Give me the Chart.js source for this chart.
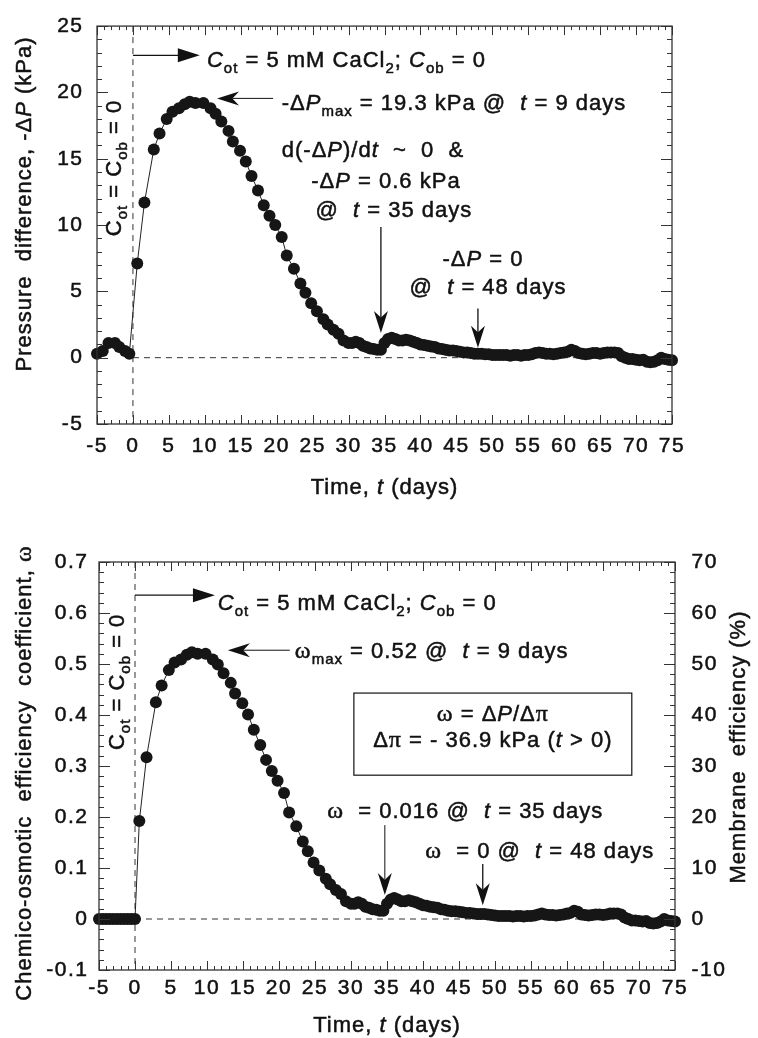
<!DOCTYPE html>
<html>
<head>
<meta charset="utf-8">
<title>Pressure difference and chemico-osmotic efficiency</title>
<script src="https://cdn.jsdelivr.net/npm/chart.js@4.4.1/dist/chart.umd.min.js"></script>
<style>
body { margin: 0; background: #fff; }
.box { position: absolute; left: 0; }
</style>
</head>
<body>
<div class="box" style="top:0"><canvas id="pressure" width="758" height="510"></canvas></div>
<div class="box" style="top:515px"><canvas id="omega" width="758" height="523"></canvas></div>
<script>
'use strict';
// readings taken off the figure (time in days)
let dayPre = [-5, -4.2, -3.4, -2.5, -1.9, -1.1, -0.5];
let pressurePre = [0.3, 0.5, 1.1, 1.1, 0.8, 0.5, 0.3];
let dayZero = [-5, -4.5, -4, -3.5, -3, -2.5, -2, -1.5, -1, -0.5, 0];
let omegaZero = [0, 0, 0, 0, 0, 0, 0, 0, 0, 0, 0];

let dayRise = [0.6, 1.6, 2.9, 3.7, 4.7, 5.5, 6.4, 7.2, 7.9, 8.7, 9.8, 10.8, 11.5, 12.3, 13.3, 13.9, 14.9, 15.7,
    16.5, 17.4, 18.2, 19.0, 19.8, 20.7, 21.4, 22.4, 23.3, 24.0, 24.8, 25.6, 26.5, 27.1, 27.9, 28.6, 29.3, 30.0];
let pressureRise = [7.1, 11.7, 15.7, 16.9, 18.0, 18.55, 18.8, 19.1, 19.3, 19.2, 19.2, 18.8, 18.4, 17.8, 17.1, 16.3, 15.6, 14.8,
    13.7, 12.6, 11.5, 10.7, 10.0, 9.1, 7.7, 6.7, 5.6, 4.9, 4.1, 3.5, 2.9, 2.5, 2.1, 1.8, 1.3, 1.1];
let omegaRise = [0.192, 0.317, 0.425, 0.458, 0.488, 0.503, 0.509, 0.518, 0.523, 0.520, 0.520, 0.509, 0.499, 0.482, 0.463, 0.442, 0.423, 0.401,
    0.371, 0.341, 0.312, 0.290, 0.271, 0.247, 0.209, 0.182, 0.152, 0.133, 0.111, 0.095, 0.079, 0.068, 0.057, 0.049, 0.035, 0.030];

let dayTail = [30.5, 31, 31.5, 32, 32.5, 33, 33.5, 34, 34.5, 35, 35.5, 36, 36.5, 37, 37.5, 38, 38.5, 39, 39.5, 40,
    40.5, 41, 41.5, 42, 42.5, 43, 43.5, 44, 44.5, 45, 45.5, 46, 46.5, 47, 47.5, 48, 48.5, 49, 49.5, 50,
    50.5, 51, 51.5, 52, 52.5, 53, 53.5, 54, 54.5, 55, 55.5, 56, 56.5, 57, 57.5, 58, 58.5, 59, 59.5, 60,
    60.5, 61, 61.5, 62, 62.5, 63, 63.5, 64, 64.5, 65, 65.5, 66, 66.5, 67, 67.5, 68, 68.5, 69, 69.5, 70,
    70.5, 71, 71.5, 72, 72.5, 73, 73.5, 74, 74.5, 75];
let pressureTail = [1.1, 1.2, 1.1, 0.9, 0.8, 0.7, 0.65, 0.6, 0.6, 1.1, 1.4, 1.5, 1.4, 1.3, 1.3, 1.35, 1.3, 1.2, 1.1, 1.0,
    0.95, 0.9, 0.85, 0.8, 0.7, 0.65, 0.6, 0.55, 0.55, 0.5, 0.45, 0.4, 0.4, 0.35, 0.3, 0.3, 0.3, 0.25, 0.25, 0.2,
    0.2, 0.2, 0.2, 0.2, 0.15, 0.2, 0.2, 0.15, 0.2, 0.2, 0.25, 0.35, 0.4, 0.35, 0.3, 0.3, 0.25, 0.3, 0.35, 0.4,
    0.45, 0.6, 0.5, 0.35, 0.3, 0.25, 0.3, 0.35, 0.35, 0.3, 0.35, 0.4, 0.4, 0.4, 0.35, 0.1, 0.0, -0.1, -0.1, -0.15,
    -0.2, -0.15, -0.3, -0.35, -0.3, -0.2, 0.0, -0.1, -0.15, -0.2];
let omegaTail = [0.030, 0.033, 0.030, 0.024, 0.022, 0.019, 0.018, 0.016, 0.016, 0.030, 0.038, 0.041, 0.038, 0.035, 0.035, 0.037, 0.035, 0.033, 0.030, 0.027,
    0.026, 0.024, 0.023, 0.022, 0.019, 0.018, 0.016, 0.015, 0.015, 0.014, 0.013, 0.012, 0.012, 0.011, 0.010, 0.010, 0.010, 0.009, 0.008, 0.007,
    0.006, 0.006, 0.006, 0.006, 0.005, 0.006, 0.006, 0.005, 0.006, 0.006, 0.007, 0.009, 0.011, 0.009, 0.008, 0.008, 0.007, 0.008, 0.009, 0.011,
    0.012, 0.016, 0.014, 0.009, 0.008, 0.007, 0.008, 0.009, 0.009, 0.008, 0.009, 0.011, 0.011, 0.011, 0.009, 0.003, 0.000, -0.003, -0.003, -0.004,
    -0.005, -0.004, -0.008, -0.009, -0.008, -0.005, 0.000, -0.003, -0.004, -0.005];

let timeTicks = [-5, 0, 5, 10, 15, 20, 25, 30, 35, 40, 45, 50, 55, 60, 65, 70, 75];
let pressureTicks = [-5, 0, 5, 10, 15, 20, 25];
let omegaTicks = [-0.1, 0, 0.1, 0.2, 0.3, 0.4, 0.5, 0.6, 0.7];
let efficiencyTicks = [-10, 0, 10, 20, 30, 40, 50, 60, 70];

const sans = '"Liberation Sans", Arial, Helvetica, sans-serif';
const serif = '"Liberation Serif", "Times New Roman", serif';
const ink = '#111';

function points(days, vals) {
    return days.map((d, i) => ({ x: d, y: vals[i] }));
}

function setFont(ctx, kind, size) {
    if (kind === 'i') ctx.font = 'italic ' + size + 'px ' + sans;
    else if (kind === 'b') ctx.font = Math.round(size * 0.68) + 'px ' + sans;
    else if (kind === 'g') ctx.font = (size + 2) + 'px ' + serif;
    else ctx.font = size + 'px ' + sans;
}

// parts: [text, kind]  n normal, i italic, b subscript, g greek (serif)
function richText(ctx, parts, x, y, size, align) {
    ctx.save();
    ctx.letterSpacing = '1px';
    ctx.textAlign = 'left';
    ctx.textBaseline = 'alphabetic';
    ctx.fillStyle = ink;
    ctx.strokeStyle = ink;
    ctx.lineWidth = 0.5;
    let w = 0;
    parts.forEach(p => { setFont(ctx, p[1], size); w += ctx.measureText(p[0]).width; });
    let cx = align === 'center' ? x - w / 2 : x;
    parts.forEach(p => {
        setFont(ctx, p[1], size);
        let dy = p[1] === 'b' ? size * 0.28 : 0;
        ctx.strokeText(p[0], cx, y + dy);
        ctx.fillText(p[0], cx, y + dy);
        cx += ctx.measureText(p[0]).width;
    });
    ctx.restore();
}

function rotText(ctx, parts, x, y, size) {
    ctx.save();
    ctx.translate(x, y);
    ctx.rotate(-Math.PI / 2);
    richText(ctx, parts, 0, 0, size, 'center');
    ctx.restore();
}

function arrow(ctx, x1, y1, x2, y2, notch, lw) {
    let a = Math.atan2(y2 - y1, x2 - x1), L = 22, W = 7;
    let c = Math.cos(a), s = Math.sin(a);
    ctx.save();
    ctx.strokeStyle = ink;
    ctx.fillStyle = ink;
    ctx.lineWidth = lw;
    ctx.beginPath();
    ctx.moveTo(x1, y1);
    ctx.lineTo(x2 - L * 0.7 * c, y2 - L * 0.7 * s);
    ctx.stroke();
    ctx.beginPath();
    ctx.moveTo(x2, y2);
    ctx.lineTo(x2 - L * c + W * s, y2 - L * s - W * c);
    if (notch) ctx.lineTo(x2 - L * 0.7 * c, y2 - L * 0.7 * s);
    ctx.lineTo(x2 - L * c - W * s, y2 - L * s + W * c);
    ctx.closePath();
    ctx.fill();
    ctx.restore();
}

function dashed(ctx, x1, y1, x2, y2) {
    ctx.save();
    ctx.strokeStyle = '#333';
    ctx.lineWidth = 1;
    ctx.setLineDash([6, 5]);
    ctx.beginPath();
    ctx.moveTo(x1, y1);
    ctx.lineTo(x2, y2);
    ctx.stroke();
    ctx.restore();
}

// box round the plot with inward ticks on all four sides
function frameTicks(chart, xs, xStep, xEvery, ys, yStep, yEvery) {
    let ctx = chart.ctx, a = chart.chartArea;
    ctx.save();
    ctx.strokeStyle = '#333';
    ctx.lineWidth = 1;
    ctx.beginPath();
    let nx = Math.round((xs.max - xs.min) / xStep);
    for (let i = 0; i <= nx; i++) {
        let px = Math.round(xs.getPixelForValue(xs.min + i * xStep)) + 0.5;
        let len = i % xEvery === 0 ? 9 : 4;
        ctx.moveTo(px, a.bottom); ctx.lineTo(px, a.bottom - len);
        ctx.moveTo(px, a.top); ctx.lineTo(px, a.top + len);
    }
    let ny = Math.round((ys.max - ys.min) / yStep);
    for (let i = 0; i <= ny; i++) {
        let py = Math.round(ys.getPixelForValue(ys.min + i * yStep)) + 0.5;
        let len = i % yEvery === 0 ? 11 : 5;
        ctx.moveTo(a.left, py); ctx.lineTo(a.left + len, py);
        ctx.moveTo(a.right, py); ctx.lineTo(a.right - len, py);
    }
    ctx.stroke();
    ctx.lineWidth = 1.3;
    ctx.strokeRect(a.left, a.top, a.right - a.left, a.bottom - a.top);
    ctx.restore();
}

function axisConf(min, max, list, pad, size, extra) {
    return Object.assign({
        type: 'linear',
        min: min,
        max: max,
        afterBuildTicks: s => { s.ticks = list.map(v => ({ value: v })); },
        ticks: {
            autoSkip: false, maxRotation: 0, padding: pad, color: ink,
            textStrokeColor: ink, textStrokeWidth: 0.5,
            font: { family: sans, size: 21 }, callback: v => String(v)
        },
        grid: { display: false, drawTicks: false },
        border: { display: false },
        afterFit: s => { if (s.isHorizontal()) s.height = size; else s.width = size; }
    }, extra || {});
}

function seriesStyle(data) {
    return {
        data: data,
        borderColor: '#222',
        borderWidth: 1,
        pointRadius: 6,
        pointBackgroundColor: '#161616',
        pointBorderWidth: 0,
        tension: 0,
        clip: false
    };
}

let topText = [['C', 'i'], ['ot', 'b'], [' = 5 mM CaCl', 'n'], ['2', 'b'], ['; ', 'n'], ['C', 'i'], ['ob', 'b'], [' = 0', 'n']];
let zeroText = [['C', 'n'], ['ot', 'b'], [' = C', 'n'], ['ob', 'b'], [' = 0', 'n']];
let timeTitle = [['Time, ', 'n'], ['t', 'i'], [' (days)', 'n']];

const decorPressure = {
    id: 'decorPressure',
    beforeDraw(c) { c.ctx.letterSpacing = '1.5px'; },
    beforeDatasetsDraw(c) {
        let X = v => c.scales.x.getPixelForValue(v), Y = v => c.scales.y.getPixelForValue(v), a = c.chartArea;
        dashed(c.ctx, X(0), a.top, X(0), a.bottom);
        dashed(c.ctx, X(0), Y(0), a.right, Y(0));
    },
    afterDatasetsDraw(c) {
        let ctx = c.ctx, a = c.chartArea;
        let X = v => c.scales.x.getPixelForValue(v), Y = v => c.scales.y.getPixelForValue(v);
        frameTicks(c, c.scales.x, 1, 5, c.scales.y, 1, 5);
        arrow(ctx, X(0), Y(22.8), X(9.3), Y(22.8), false, 1.3);
        richText(ctx, topText, X(10.3), Y(21.9), 22, 'left');
        arrow(ctx, X(19.5), Y(19.55), X(11.7), Y(19.55), true, 1);
        richText(ctx, [['-Δ', 'n'], ['P', 'i'], ['max', 'b'], [' = 19.3 kPa @  ', 'n'], ['t', 'i'], [' = 9 days', 'n']], X(20.7), Y(18.7), 22, 'left');
        richText(ctx, [['d(-Δ', 'n'], ['P', 'i'], [')/d', 'n'], ['t', 'i'], ['  ~  0  &', 'n']], X(33.4), Y(15.1), 22, 'center');
        richText(ctx, [['-Δ', 'n'], ['P', 'i'], [' = 0.6 kPa', 'n']], X(35.2), Y(12.8), 22, 'center');
        richText(ctx, [['@  ', 'n'], ['t', 'i'], [' = 35 days', 'n']], X(36.3), Y(10.6), 22, 'center');
        arrow(ctx, X(34.5), Y(9.85), X(34.5), Y(1.87), true, 1.3);
        richText(ctx, [['-Δ', 'n'], ['P', 'i'], [' = 0', 'n']], X(48.7), Y(6.9), 22, 'center');
        richText(ctx, [['@  ', 'n'], ['t', 'i'], [' = 48 days', 'n']], X(49.4), Y(4.8), 22, 'center');
        arrow(ctx, X(48), Y(3.7), X(48), Y(0.75), true, 1.3);
        rotText(ctx, zeroText, X(-1.67), Y(14.3), 22);
        richText(ctx, timeTitle, (a.left + a.right) / 2, 494, 22, 'center');
        rotText(ctx, [['Pressure  difference, -Δ', 'n'], ['P', 'i'], [' (kPa)', 'n']], 31, 204, 22);
    }
};

const decorOmega = {
    id: 'decorOmega',
    beforeDraw(c) { c.ctx.letterSpacing = '1.5px'; },
    beforeDatasetsDraw(c) {
        let X = v => c.scales.x.getPixelForValue(v), Y = v => c.scales.y.getPixelForValue(v), a = c.chartArea;
        dashed(c.ctx, X(0), a.top, X(0), a.bottom);
        dashed(c.ctx, X(0), Y(0), a.right, Y(0));
    },
    afterDatasetsDraw(c) {
        let ctx = c.ctx, a = c.chartArea;
        let X = v => c.scales.x.getPixelForValue(v), Y = v => c.scales.y.getPixelForValue(v);
        frameTicks(c, c.scales.x, 1, 5, c.scales.y, 0.02, 5);
        arrow(ctx, X(0), Y(0.635), X(11.1), Y(0.635), false, 1.3);
        richText(ctx, topText, X(11.5), Y(0.606), 22, 'left');
        arrow(ctx, X(21.5), Y(0.527), X(12.9), Y(0.527), true, 1);
        richText(ctx, [['ω', 'g'], ['max', 'b'], [' = 0.52 @  ', 'n'], ['t', 'i'], [' = 9 days', 'n']], X(22.2), Y(0.512), 22, 'left');
        ctx.save();
        ctx.strokeStyle = ink;
        ctx.lineWidth = 1.2;
        ctx.strokeRect(X(30.4), Y(0.443), X(69.0) - X(30.4), Y(0.282) - Y(0.443));
        ctx.restore();
        richText(ctx, [['ω', 'g'], [' = Δ', 'n'], ['P', 'i'], ['/Δ', 'n'], ['π', 'g']], X(49.7), Y(0.388), 22, 'center');
        richText(ctx, [['Δ', 'n'], ['π', 'g'], [' = - 36.9 kPa (', 'n'], ['t', 'i'], [' > 0)', 'n']], X(49.7), Y(0.337), 22, 'center');
        richText(ctx, [['ω', 'g'], ['  = 0.016 @  ', 'n'], ['t', 'i'], [' = 35 days', 'n']], X(26.7), Y(0.198), 22, 'left');
        arrow(ctx, X(34.7), Y(0.184), X(34.7), Y(0.047), true, 1);
        richText(ctx, [['ω', 'g'], ['  = 0 @  ', 'n'], ['t', 'i'], [' = 48 days', 'n']], X(40.3), Y(0.12), 22, 'left');
        arrow(ctx, X(48.3), Y(0.108), X(48.3), Y(0.027), true, 1.3);
        rotText(ctx, zeroText, X(-1.53), Y(0.465), 22);
        richText(ctx, timeTitle, (a.left + a.right) / 2, 517, 22, 'center');
        rotText(ctx, [['Chemico-osmotic  efficiency  coefficient, ', 'n'], ['ω', 'g']], 31, 258, 22);
        rotText(ctx, [['Membrane  efficiency (%)', 'n']], 745, 232, 22);
    }
};

new Chart(document.getElementById('pressure'), {
    type: 'line',
    data: {
        datasets: [seriesStyle(points(dayPre.concat(dayRise, dayTail), pressurePre.concat(pressureRise, pressureTail)))]
    },
    options: {
        responsive: false,
        animation: false,
        devicePixelRatio: 1,
        layout: { padding: { top: 22, right: 86, left: 0, bottom: 0 } },
        plugins: { legend: { display: false }, tooltip: { enabled: false } },
        scales: {
            x: axisConf(-5, 75, timeTicks, 9.5, 86),
            y: axisConf(-5, 25, pressureTicks, 13.5, 97)
        }
    },
    plugins: [decorPressure]
});

new Chart(document.getElementById('omega'), {
    type: 'line',
    data: {
        datasets: [seriesStyle(points(dayZero.concat(dayRise, dayTail), omegaZero.concat(omegaRise, omegaTail)))]
    },
    options: {
        responsive: false,
        animation: false,
        devicePixelRatio: 1,
        layout: { padding: { top: 47, right: 0, left: 0, bottom: 0 } },
        plugins: { legend: { display: false }, tooltip: { enabled: false } },
        scales: {
            x: axisConf(-5, 75, timeTicks, 5.4, 68),
            y: axisConf(-0.1, 0.7, omegaTicks, 10.5, 99),
            y2: axisConf(-10, 70, efficiencyTicks, 16.5, 83, { position: 'right' })
        }
    },
    plugins: [decorOmega]
});
</script>
</body>
</html>
